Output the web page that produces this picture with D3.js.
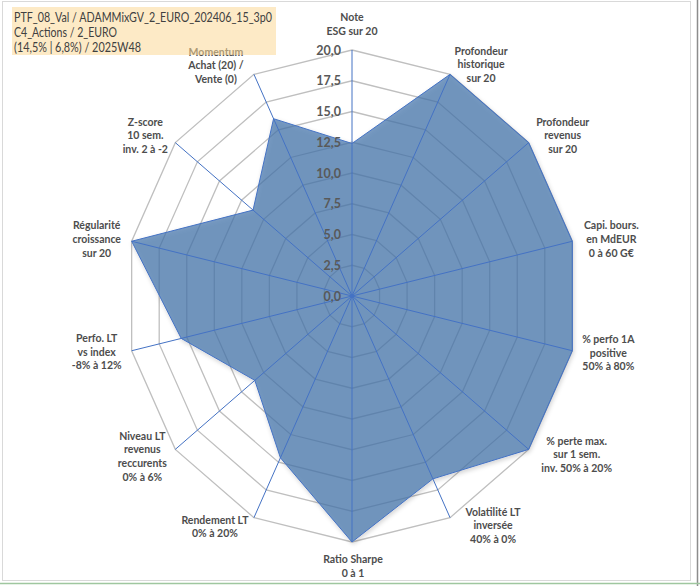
<!DOCTYPE html>
<html><head><meta charset="utf-8">
<script src="https://cdnjs.cloudflare.com/ajax/libs/d3/7.8.5/d3.min.js"></script>
<style>
html,body{margin:0;padding:0;background:#fff;}
svg{display:block;}
</style></head>
<body>
<svg id="c" width="700" height="586"></svg>
<script>
// ---- data ----
const categories = [
  ["Note","ESG sur 20"],
  ["Profondeur","historique","sur 20"],
  ["Profondeur","revenus","sur 20"],
  ["Capi. bours.","en MdEUR","0 à 60 G€"],
  ["% perfo 1A","positive","50% à 80%"],
  ["% perte max.","sur 1 sem.","inv. 50% à 20%"],
  ["Volatilité LT","inversée","40% à 0%"],
  ["Ratio Sharpe","0 à 1"],
  ["Rendement LT","0% à 20%"],
  ["Niveau LT","revenus","reccurents","0% à 6%"],
  ["Perfo. LT","vs index","-8% à 12%"],
  ["Régularité","croissance","sur 20"],
  ["Z-score","10 sem.","inv. 2 à -2"],
  ["Momentum","Achat (20) /","Vente (0)"]
];
const values = [12.4, 20, 20, 20, 20, 20, 16.5, 20, 14.6, 11, 15.5, 20, 11.2, 16];
const ticks = [0, 2.5, 5, 7.5, 10, 12.5, 15, 17.5, 20];
const titleLines = [
  "PTF_08_Val / ADAMMixGV_2_EURO_202406_15_3p0",
  "C4_Actions / 2_EURO",
  "(14,5% | 6,8%) / 2025W48"
];

// ---- layout ----
const cx = 352, cy = 296, RX = 226, RY = 246;
const labelOffset = [[0,-26],[31,-10],[34,-7],[39,-2],[36,2],[48,5],[43,8],[1,24],[-39,9],[-33,7],[-35,1],[-35,-2],[-30,-7],[-38,-9]];
const titleWidths = [258, 103, 127];

const svg = d3.select("#c");
const n = categories.length;
const angle = d3.scaleLinear().domain([0, n]).range([0, 2*Math.PI]);
const rx = d3.scaleLinear().domain([0, 20]).range([0, RX]);
const ry = d3.scaleLinear().domain([0, 20]).range([0, RY]);
const pt = (i, v) => [cx + rx(v)*Math.sin(angle(i)), cy - ry(v)*Math.cos(angle(i))];

// borders
svg.append("rect").attr("x",2.5).attr("y",1.5).attr("width",688).attr("height",579)
  .attr("fill","#fff").attr("stroke","#d9d9d9").attr("stroke-width",1);
svg.append("line").attr("x1",697.5).attr("x2",697.5).attr("y1",0).attr("y2",586).attr("stroke","#8c8c8c").attr("stroke-width",1.5);
svg.append("line").attr("x1",0).attr("x2",700).attr("y1",583.5).attr("y2",583.5).attr("stroke","#9fc79f").attr("stroke-width",1.5);

const defs = svg.append("defs");
const f = defs.append("filter").attr("id","sh").attr("x","-10%").attr("y","-10%").attr("width","120%").attr("height","120%");
f.append("feDropShadow").attr("dx",1).attr("dy",2).attr("stdDeviation",2).attr("flood-color","#000").attr("flood-opacity",0.22);

// grid rings
const line = d3.line();
ticks.filter(t => t > 0).forEach(t => {
  const pts = d3.range(n).map(i => pt(i, t));
  svg.append("path").attr("d", line(pts) + "Z")
    .attr("fill","none").attr("stroke","#bfbfbf").attr("stroke-width",1.3);
});

// data polygon
const dpts = values.map((v, i) => pt(i, v));
svg.append("path").attr("d", line(dpts) + "Z")
  .attr("fill","#4173ab").attr("fill-opacity",0.7)
  .attr("stroke","#4472c4").attr("stroke-width",1)
  .attr("filter","url(#sh)");

// spokes
d3.range(n).forEach(i => {
  const [x, y] = pt(i, 20);
  svg.append("line").attr("x1",cx).attr("y1",cy).attr("x2",x).attr("y2",y)
    .attr("stroke","#4472c4").attr("stroke-width",1);
});
svg.append("circle").attr("cx",cx).attr("cy",cy).attr("r",2).attr("fill","#4472c4");

// tick labels
const fmt = d3.format(".1f");
svg.append("g").selectAll("text").data(ticks).join("text")
  .attr("x", cx - 11).attr("y", d => cy - ry(d) + 4.5)
  .attr("text-anchor","end")
  .attr("font-family","Lato, 'Liberation Sans', sans-serif")
  .attr("font-weight","bold").attr("font-size",12.5).attr("fill","#595959")
  .text(d => fmt(d).replace(".", ","));

// category labels
const lh = 13.6;
categories.forEach((lines, i) => {
  const [vx, vy] = pt(i, 20);
  const lx = vx + labelOffset[i][0], ly = vy + labelOffset[i][1];
  const t = svg.append("text").attr("text-anchor","middle")
    .attr("font-family","Lato, 'Liberation Sans', sans-serif")
    .attr("font-weight","bold").attr("font-size",10.5).attr("fill","#4d4d4d");
  lines.forEach((s, k) => {
    t.append("tspan").attr("x", lx)
      .attr("y", ly + (k - (lines.length - 1)/2) * lh + 3.8)
      .text(s);
  });
});

// title box (semi-opaque, drawn over labels)
svg.append("rect").attr("x",12).attr("y",7).attr("width",264).attr("height",48)
  .attr("fill","#fbd998").attr("fill-opacity",0.55);
svg.append("g").selectAll("text").data(titleLines).join("text")
  .attr("x",14).attr("y",(d,i) => 22 + i*15)
  .attr("font-family","'Liberation Sans Narrow', Lato, 'Liberation Sans', sans-serif")
  .attr("font-size",13.5).attr("fill","#404040")
  .attr("textLength",(d,i) => titleWidths[i]).attr("lengthAdjust","spacingAndGlyphs")
  .text(d => d);
</script>
</body></html>
